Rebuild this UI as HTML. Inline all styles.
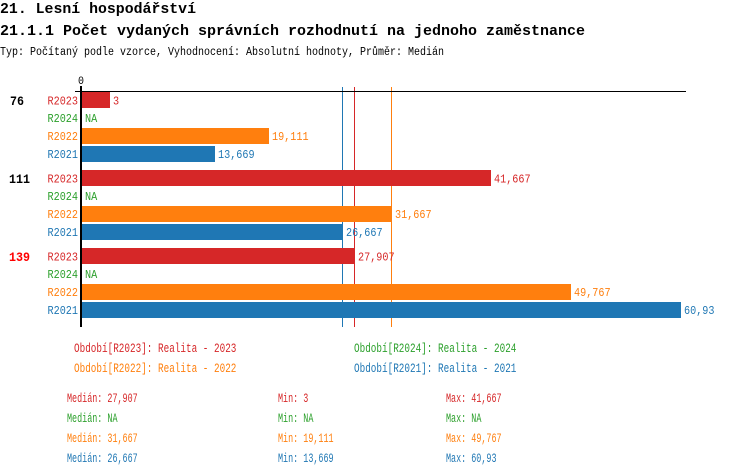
<!DOCTYPE html>
<html>
<head>
<meta charset="utf-8">
<style>
  html, body { margin: 0; padding: 0; background: #ffffff; }
  svg { display: block; }
  text { font-family: "Liberation Mono", "DejaVu Sans Mono", monospace; }
</style>
</head>
<body>
<svg width="750" height="476" viewBox="0 0 750 476" xmlns="http://www.w3.org/2000/svg">
  <rect x="0" y="0" width="750" height="476" fill="#ffffff"/>

  <!-- Titles -->
  <text x="0" y="13" font-size="15" font-weight="bold" fill="#000" textLength="196" lengthAdjust="spacingAndGlyphs">21. Lesní hospodářství</text>
  <text x="0" y="35" font-size="15" font-weight="bold" fill="#000" textLength="585" lengthAdjust="spacingAndGlyphs">21.1.1 Počet vydaných správních rozhodnutí na jednoho zaměstnance</text>
  <text x="0" y="55" font-size="11.5" fill="#000" textLength="444" lengthAdjust="spacingAndGlyphs">Typ: Počítaný podle vzorce, Vyhodnocení: Absolutní hodnoty, Průměr: Medián</text>

  <!-- axis 0 label -->
  <text x="78" y="84" font-size="11" fill="#000" textLength="6" lengthAdjust="spacingAndGlyphs">0</text>

  <!-- median lines (behind bars) -->
  <rect x="342" y="87" width="1" height="240" fill="#1f77b4"/>
  <rect x="354" y="87" width="1" height="240" fill="#d62728"/>
  <rect x="391" y="87" width="1" height="240" fill="#ff7f0e"/>

  <!-- Group 1 (76) -->
  <text x="10" y="105" font-size="12.5" font-weight="bold" fill="#000" textLength="14" lengthAdjust="spacingAndGlyphs">76</text>
  <text x="47.5" y="104.5" font-size="11.5" fill="#d62728" textLength="30.5" lengthAdjust="spacingAndGlyphs">R2023</text>
  <rect x="82" y="92" width="28" height="16" fill="#d62728"/>
  <text x="113" y="104.5" font-size="11.5" fill="#d62728" textLength="6.1" lengthAdjust="spacingAndGlyphs">3</text>

  <text x="47.5" y="122" font-size="11.5" fill="#2ca02c" textLength="30.5" lengthAdjust="spacingAndGlyphs">R2024</text>
  <text x="85" y="122" font-size="11.5" fill="#2ca02c" textLength="12.2" lengthAdjust="spacingAndGlyphs">NA</text>

  <text x="47.5" y="140" font-size="11.5" fill="#ff7f0e" textLength="30.5" lengthAdjust="spacingAndGlyphs">R2022</text>
  <rect x="82" y="128" width="187" height="16" fill="#ff7f0e"/>
  <text x="272" y="140" font-size="11.5" fill="#ff7f0e" textLength="36.6" lengthAdjust="spacingAndGlyphs">19,111</text>

  <text x="47.5" y="158" font-size="11.5" fill="#1f77b4" textLength="30.5" lengthAdjust="spacingAndGlyphs">R2021</text>
  <rect x="82" y="146" width="133" height="16" fill="#1f77b4"/>
  <text x="218" y="158" font-size="11.5" fill="#1f77b4" textLength="36.6" lengthAdjust="spacingAndGlyphs">13,669</text>

  <!-- Group 2 (111) -->
  <text x="9" y="183" font-size="12.5" font-weight="bold" fill="#000" textLength="21" lengthAdjust="spacingAndGlyphs">111</text>
  <text x="47.5" y="182.5" font-size="11.5" fill="#d62728" textLength="30.5" lengthAdjust="spacingAndGlyphs">R2023</text>
  <rect x="82" y="170" width="409" height="16" fill="#d62728"/>
  <text x="494" y="182.5" font-size="11.5" fill="#d62728" textLength="36.6" lengthAdjust="spacingAndGlyphs">41,667</text>

  <text x="47.5" y="200" font-size="11.5" fill="#2ca02c" textLength="30.5" lengthAdjust="spacingAndGlyphs">R2024</text>
  <text x="85" y="200" font-size="11.5" fill="#2ca02c" textLength="12.2" lengthAdjust="spacingAndGlyphs">NA</text>

  <text x="47.5" y="218" font-size="11.5" fill="#ff7f0e" textLength="30.5" lengthAdjust="spacingAndGlyphs">R2022</text>
  <rect x="82" y="206" width="309" height="16" fill="#ff7f0e"/>
  <text x="395" y="218" font-size="11.5" fill="#ff7f0e" textLength="36.6" lengthAdjust="spacingAndGlyphs">31,667</text>

  <text x="47.5" y="236" font-size="11.5" fill="#1f77b4" textLength="30.5" lengthAdjust="spacingAndGlyphs">R2021</text>
  <rect x="82" y="224" width="261" height="16" fill="#1f77b4"/>
  <text x="346" y="236" font-size="11.5" fill="#1f77b4" textLength="36.6" lengthAdjust="spacingAndGlyphs">26,667</text>

  <!-- Group 3 (139) -->
  <text x="9" y="261" font-size="12.5" font-weight="bold" fill="#ff0000" textLength="21" lengthAdjust="spacingAndGlyphs">139</text>
  <text x="47.5" y="260.5" font-size="11.5" fill="#d62728" textLength="30.5" lengthAdjust="spacingAndGlyphs">R2023</text>
  <rect x="82" y="248" width="272" height="16" fill="#d62728"/>
  <text x="358" y="260.5" font-size="11.5" fill="#d62728" textLength="36.6" lengthAdjust="spacingAndGlyphs">27,907</text>

  <text x="47.5" y="278" font-size="11.5" fill="#2ca02c" textLength="30.5" lengthAdjust="spacingAndGlyphs">R2024</text>
  <text x="85" y="278" font-size="11.5" fill="#2ca02c" textLength="12.2" lengthAdjust="spacingAndGlyphs">NA</text>

  <text x="47.5" y="296" font-size="11.5" fill="#ff7f0e" textLength="30.5" lengthAdjust="spacingAndGlyphs">R2022</text>
  <rect x="82" y="284" width="489" height="16" fill="#ff7f0e"/>
  <text x="574" y="296" font-size="11.5" fill="#ff7f0e" textLength="36.6" lengthAdjust="spacingAndGlyphs">49,767</text>

  <text x="47.5" y="314" font-size="11.5" fill="#1f77b4" textLength="30.5" lengthAdjust="spacingAndGlyphs">R2021</text>
  <rect x="82" y="302" width="599" height="16" fill="#1f77b4"/>
  <text x="684" y="314" font-size="11.5" fill="#1f77b4" textLength="30.5" lengthAdjust="spacingAndGlyphs">60,93</text>

  <!-- axes (on top) -->
  <rect x="75" y="91" width="611" height="1" fill="#000"/>
  <rect x="80" y="86" width="2" height="241" fill="#000"/>

  <!-- Legend -->
  <text x="74" y="352" font-size="13" fill="#d62728" textLength="162.4" lengthAdjust="spacingAndGlyphs">Období[R2023]: Realita - 2023</text>
  <text x="354" y="352" font-size="13" fill="#2ca02c" textLength="162.4" lengthAdjust="spacingAndGlyphs">Období[R2024]: Realita - 2024</text>
  <text x="74" y="372" font-size="13" fill="#ff7f0e" textLength="162.4" lengthAdjust="spacingAndGlyphs">Období[R2022]: Realita - 2022</text>
  <text x="354" y="372" font-size="13" fill="#1f77b4" textLength="162.4" lengthAdjust="spacingAndGlyphs">Období[R2021]: Realita - 2021</text>

  <!-- Stats -->
  <text x="67" y="402" font-size="13" fill="#d62728" textLength="70.7" lengthAdjust="spacingAndGlyphs">Medián: 27,907</text>
  <text x="278" y="402" font-size="13" fill="#d62728" textLength="30.3" lengthAdjust="spacingAndGlyphs">Min: 3</text>
  <text x="446" y="402" font-size="13" fill="#d62728" textLength="55.6" lengthAdjust="spacingAndGlyphs">Max: 41,667</text>

  <text x="67" y="422" font-size="13" fill="#2ca02c" textLength="50.5" lengthAdjust="spacingAndGlyphs">Medián: NA</text>
  <text x="278" y="422" font-size="13" fill="#2ca02c" textLength="35.4" lengthAdjust="spacingAndGlyphs">Min: NA</text>
  <text x="446" y="422" font-size="13" fill="#2ca02c" textLength="35.4" lengthAdjust="spacingAndGlyphs">Max: NA</text>

  <text x="67" y="442" font-size="13" fill="#ff7f0e" textLength="70.7" lengthAdjust="spacingAndGlyphs">Medián: 31,667</text>
  <text x="278" y="442" font-size="13" fill="#ff7f0e" textLength="55.6" lengthAdjust="spacingAndGlyphs">Min: 19,111</text>
  <text x="446" y="442" font-size="13" fill="#ff7f0e" textLength="55.6" lengthAdjust="spacingAndGlyphs">Max: 49,767</text>

  <text x="67" y="462" font-size="13" fill="#1f77b4" textLength="70.7" lengthAdjust="spacingAndGlyphs">Medián: 26,667</text>
  <text x="278" y="462" font-size="13" fill="#1f77b4" textLength="55.6" lengthAdjust="spacingAndGlyphs">Min: 13,669</text>
  <text x="446" y="462" font-size="13" fill="#1f77b4" textLength="50.5" lengthAdjust="spacingAndGlyphs">Max: 60,93</text>
</svg>
</body>
</html>
